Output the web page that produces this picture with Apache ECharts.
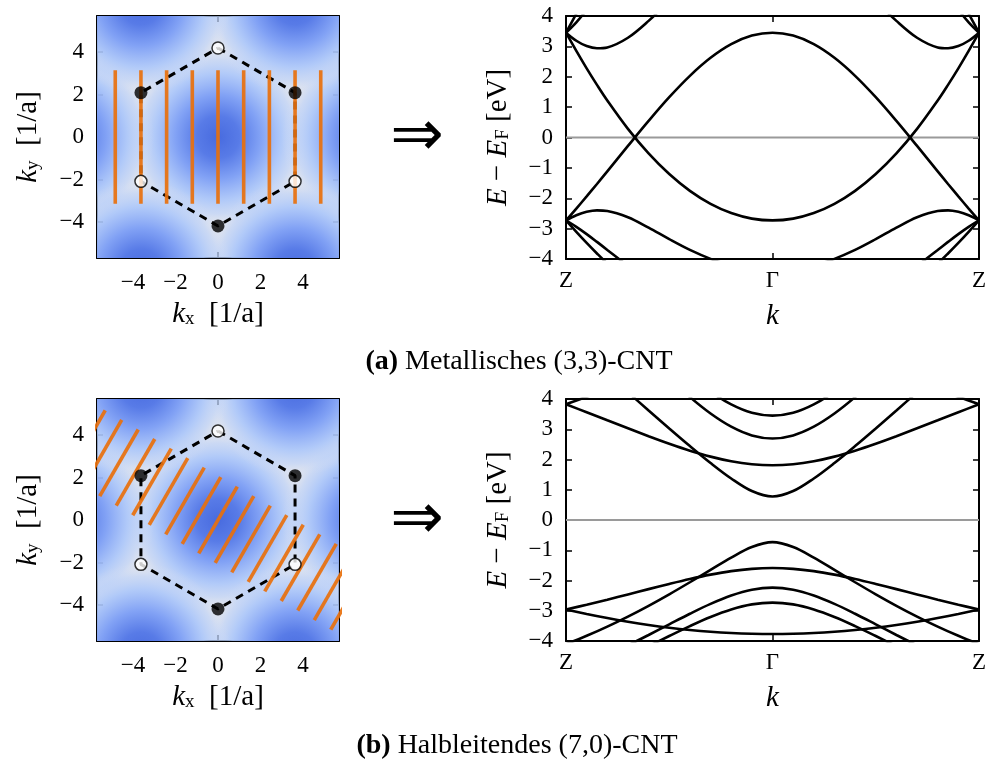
<!DOCTYPE html>
<html><head><meta charset="utf-8">
<script src="https://cdn.jsdelivr.net/npm/echarts@6/dist/echarts.min.js"></script>
<style>html,body{margin:0;padding:0;background:#fff}#c{width:1006px;height:765px}</style>
</head><body><div id="c"></div>
<script>
const FONT = '"Liberation Serif","DejaVu Serif",serif';

// ---- Brillouin-zone panels (k-space, units 1/a) ----
const bzTicks = [-4, -2, 0, 2, 4];
// dark (Gamma) spot centres of the background map
const gammaX = [0, 7.255, -7.255, 3.628, -3.628, 3.628, -3.628];
const gammaY = [0, 0, 0, 6.283, 6.283, -6.283, -6.283];
// hexagon corners (K points)
const hexX = [0, 3.63, 3.63, 0, -3.63, -3.63, 0];
const hexY = [4.19, 2.09, -2.09, -4.19, -2.09, 2.09, 4.19];
const kFullX = [-3.63, 3.63, 0];
const kFullY = [2.09, 2.09, -4.19];
const kOpenX = [0, -3.63, 3.63];
const kOpenY = [4.19, -2.09, -2.09];
// (3,3) cutting lines (vertical)
const cutX = [-4.84, -3.63, -2.42, -1.21, 0, 1.21, 2.42, 3.63, 4.84];
const cutY = [-3.14, 3.14];
// (7,0) cutting lines (endpoints)
const zigX1 = [-7.126,-6.348,-5.571,-4.794,-4.016,-3.239,-2.462,-1.684,-0.907,-0.130,0.648,1.425,2.202,2.980,3.757,4.534,5.312];
const zigY1 = [2.019,1.571,1.122,0.673,0.224,-0.225,-0.673,-1.122,-1.571,-2.020,-2.469,-2.917,-3.366,-3.815,-4.264,-4.713,-5.161];
const zigX2 = [-5.312,-4.534,-3.757,-2.980,-2.202,-1.425,-0.648,0.130,0.907,1.684,2.462,3.239,4.016,4.794,5.571,6.348,7.126];
const zigY2 = [5.161,4.713,4.264,3.815,3.366,2.917,2.469,2.020,1.571,1.122,0.673,0.225,-0.224,-0.673,-1.122,-1.571,-2.019];

// ---- band structures ----
const kTicks = [-1, 0, 1];
const kLabels = ['Z', '\u0393', 'Z'];
const eTicks = [-4, -3, -2, -1, 0, 1, 2, 3, 4];
const fermiE = 0;

const kTop = [-1,-0.95,-0.9,-0.85,-0.8,-0.7,-0.6,-0.5,-0.4,-0.3,-0.2,-0.1,0,0.1,0.2,0.3,0.4,0.5,0.6,0.7,0.8,0.85,0.9,0.95,1];
const n = null;
const topDome   = [-2.73,-2.34,-1.939,-1.53,-1.115,-0.278,0.546,1.327,2.03,2.623,3.073,3.354,3.45,3.354,3.073,2.623,2.03,1.327,0.546,-0.278,-1.115,-1.53,-1.939,-2.34,-2.73];
const topValley = [3.45,2.85,2.277,1.733,1.218,0.284,-0.524,-1.204,-1.757,-2.185,-2.488,-2.67,-2.73,-2.67,-2.488,-2.185,-1.757,-1.204,-0.524,0.284,1.218,1.733,2.277,2.85,3.45];
const topC1Up   = [3.45,4.076,4.724,5.393,n,n,n,n,n,n,n,n,n,n,n,n,n,n,n,n,n,5.393,4.724,4.076,3.45];
const topC1Dn   = [-2.73,-3.107,-3.471,-3.819,-4.15,-4.758,-5.29,n,n,n,n,n,n,n,n,n,n,n,-5.29,-4.758,-4.15,-3.819,-3.471,-3.107,-2.73];
const topC2Up   = [3.45,3.793,4.202,4.661,5.161,n,n,n,n,n,n,n,n,n,n,n,n,n,n,n,5.161,4.661,4.202,3.793,3.45];
const topC2Dn   = [-2.73,-2.941,-3.18,-3.437,-3.701,-4.225,-4.713,-5.145,n,n,n,n,n,n,n,n,n,-5.145,-4.713,-4.225,-3.701,-3.437,-3.18,-2.941,-2.73];
const topC3Up   = [3.45,3.185,3.011,2.938,2.966,3.284,3.839,4.498,5.161,n,n,n,n,n,n,n,5.161,4.498,3.839,3.284,2.966,2.938,3.011,3.185,3.45];
const topC3Dn   = [-2.73,-2.561,-2.448,-2.399,-2.418,-2.625,-2.968,-3.347,-3.701,-3.995,-4.214,-4.348,-4.393,-4.348,-4.214,-3.995,-3.701,-3.347,-2.968,-2.625,-2.418,-2.399,-2.448,-2.561,-2.73];

const kBot = [-1,-0.9,-0.8,-0.7,-0.6,-0.5,-0.4,-0.3,-0.2,-0.1,0,0.1,0.2,0.3,0.4,0.5,0.6,0.7,0.8,0.9,1];
const botB1Up = [5.987,5.412,4.822,4.222,3.621,3.025,2.443,1.885,1.373,0.957,0.775,0.957,1.373,1.885,2.443,3.025,3.621,4.222,4.822,5.412,5.987];
const botB1Dn = [-4.107,-3.828,-3.523,-3.192,-2.836,-2.457,-2.058,-1.648,-1.242,-0.892,-0.732,-0.892,-1.242,-1.648,-2.058,-2.457,-2.836,-3.192,-3.523,-3.828,-4.107];
const botB2Up = [3.824,3.564,3.297,3.031,2.769,2.52,2.292,2.095,1.941,1.843,1.808,1.843,1.941,2.095,2.292,2.52,2.769,3.031,3.297,3.564,3.824];
const botB2Dn = [-2.959,-2.801,-2.634,-2.461,-2.285,-2.113,-1.95,-1.806,-1.69,-1.615,-1.589,-1.615,-1.69,-1.806,-1.95,-2.113,-2.285,-2.461,-2.634,-2.801,-2.959];
const botB3Up = [n,n,n,6.067,5.358,4.684,4.063,3.52,3.085,2.797,2.696,2.797,3.085,3.52,4.063,4.684,5.358,6.067,n,n,n];
const botB3Dn = [-5.065,-4.781,-4.473,-4.145,-3.801,-3.449,-3.1,-2.773,-2.496,-2.305,-2.235,-2.305,-2.496,-2.773,-3.1,-3.449,-3.801,-4.145,-4.473,-4.781,-5.065];
const botB4Up = [n,n,n,n,6.121,5.423,4.789,4.245,3.82,3.545,3.45,3.545,3.82,4.245,4.789,5.423,6.121,n,n,n,n];
const botB4Dn = [-5.407,-5.126,-4.823,-4.503,-4.17,-3.834,-3.506,-3.205,-2.956,-2.789,-2.73,-2.789,-2.956,-3.205,-3.506,-3.834,-4.17,-4.503,-4.823,-5.126,-5.407];
const botB5Up = [3.824,4.074,4.309,4.525,4.72,4.891,5.034,5.147,5.229,5.279,5.296,5.279,5.229,5.147,5.034,4.891,4.72,4.525,4.309,4.074,3.824];
const botB5Dn = [-2.959,-3.106,-3.241,-3.362,-3.469,-3.56,-3.635,-3.694,-3.736,-3.761,-3.77,-3.761,-3.736,-3.694,-3.635,-3.56,-3.469,-3.362,-3.241,-3.106,-2.959];

const topBands = [topDome, topValley, topC1Up, topC1Dn, topC2Up, topC2Dn, topC3Up, topC3Dn];
const botBands = [botB1Up, botB1Dn, botB2Up, botB2Dn, botB3Up, botB3Dn, botB4Up, botB4Dn, botB5Up, botB5Dn];

// ---- styling ----
const ORANGE = '#e8700c';
const BG = '#e2e5ec';
const BLOB_R = 4.25;
const blobStops = [
  {offset: 0, color: 'rgba(72,107,223,1)'},
  {offset: 0.235, color: 'rgba(88,123,231,1)'},
  {offset: 0.47, color: 'rgba(130,162,245,1)'},
  {offset: 0.706, color: 'rgba(172,199,250,0.9)'},
  {offset: 0.854, color: 'rgba(184,207,250,0.55)'},
  {offset: 0.94, color: 'rgba(200,216,248,0.2)'},
  {offset: 1, color: 'rgba(210,220,245,0)'}
];
const TICK_FS = 23, NAME_FS = 29, CAP_FS = 28;

const minus = v => (v < 0 ? '\u2212' + Math.abs(v) : String(v));
const nameRich = {
  i: {fontFamily: FONT, fontSize: NAME_FS, fontStyle: 'italic', color: '#000', verticalAlign: 'top', lineHeight: NAME_FS},
  r: {fontFamily: FONT, fontSize: NAME_FS, color: '#000', verticalAlign: 'top', lineHeight: NAME_FS},
  s: {fontFamily: FONT, fontSize: 19, color: '#000', verticalAlign: 'bottom', lineHeight: 19, padding: [15, 0, 0, 0]}
};

function axis(kind, g, pos, min, max, ticks, fmt, name, gap, margin) {
  const main = fmt != null;
  const a = {
    type: 'value', gridIndex: g, position: pos, min: min, max: max,
    axisLine: {show: true, onZero: false, lineStyle: {color: '#000', width: 2}},
    axisTick: {show: true, inside: true, length: 6, customValues: ticks, lineStyle: {color: '#000', width: 1.5}},
    axisLabel: {show: main, customValues: ticks, formatter: fmt || undefined, margin: margin || 11,
      color: '#000', fontFamily: FONT, fontSize: TICK_FS},
    splitLine: {show: false},
    axisPointer: {show: false}
  };
  if (name) {
    a.name = name; a.nameLocation = 'middle'; a.nameGap = gap;
    if (kind === 'y') a.nameRotate = 90;
    a.nameTextStyle = {fontFamily: FONT, fontSize: NAME_FS, color: '#000', rich: nameRich};
  }
  return a;
}

const kFmt = v => { const i = kTicks.indexOf(v); return i >= 0 ? kLabels[i] : ''; };

const grids = [
  {left: 97, top: 16, width: 242, height: 242, show: true, backgroundColor: BG, borderWidth: 0},
  {left: 566, top: 16, width: 413, height: 243},
  {left: 97, top: 399, width: 242, height: 242, show: true, backgroundColor: BG, borderWidth: 0},
  {left: 566, top: 399, width: 413, height: 242}
];

const xAxes = [], yAxes = [];
[0, 2].forEach(g => {
  xAxes.push(axis('x', g, 'bottom', -5.7, 5.7, bzTicks, minus, '{i|k}{s|x}{r|  [1/a]}', 34, 13));
  xAxes.push(axis('x', g, 'top', -5.7, 5.7, bzTicks, null));
  yAxes.push(axis('y', g, 'left', -5.7, 5.7, bzTicks, minus, '{i|k}{s|y}{r|  [1/a]}', 54, 13));
  yAxes.push(axis('y', g, 'right', -5.7, 5.7, bzTicks, null));
});
[1, 3].forEach(g => {
  xAxes.push(axis('x', g, 'bottom', -1, 1, kTicks, kFmt, '{i|k}', 43, 10));
  xAxes.push(axis('x', g, 'top', -1, 1, kTicks, null));
  yAxes.push(axis('y', g, 'left', -4, 4, eTicks, minus, '{i|E}{r| \u2212 }{i|E}{s|F}{r| [eV]}', 53, 13));
  yAxes.push(axis('y', g, 'right', -4, 4, eTicks, null));
});
// axis index order: x/y 0,1 -> grid0 ; 2,3 -> grid2 ; 4,5 -> grid1 ; 6,7 -> grid3
const AX = {0: 0, 2: 2, 1: 4, 3: 6};

const series = [];
function blobItem(params, api) {
  const c = api.coord([api.value(0), api.value(1)]);
  const r = api.size([BLOB_R, 0])[0];
  return {type: 'circle', shape: {cx: c[0], cy: c[1], r: r},
    style: {fill: new echarts.graphic.RadialGradient(0.5, 0.5, 0.5, blobStops)}};
}
function bzPanel(g, segs) {
  const ai = AX[g];
  series.push({type: 'custom', xAxisIndex: ai, yAxisIndex: ai, clip: true, silent: true, z: 1,
    renderItem: blobItem, data: gammaX.map((x, i) => [x, gammaY[i]])});
  series.push({type: 'line', xAxisIndex: ai, yAxisIndex: ai, silent: true, z: 3, symbol: 'none',
    data: hexX.map((x, i) => [x, hexY[i]]),
    lineStyle: {color: '#000', width: 3, type: [8, 6]}});
  segs.forEach(s => series.push({type: 'line', xAxisIndex: ai, yAxisIndex: ai, silent: true, z: 4,
    symbol: 'none', clip: true, data: s, lineStyle: {color: ORANGE, width: 3.6, opacity: 0.92, cap: 'butt'}}));
  series.push({type: 'scatter', xAxisIndex: ai, yAxisIndex: ai, silent: true, z: 6, symbolSize: 13,
    data: kFullX.map((x, i) => [x, kFullY[i]]), itemStyle: {color: '#000'}});
  series.push({type: 'scatter', xAxisIndex: ai, yAxisIndex: ai, silent: true, z: 6, symbolSize: 12,
    data: kOpenX.map((x, i) => [x, kOpenY[i]]), itemStyle: {color: '#fff', borderColor: '#000', borderWidth: 1.5}});
}
bzPanel(0, cutX.map(x => [[x, cutY[0]], [x, cutY[1]]]));
bzPanel(2, zigX1.map((x, i) => [[x, zigY1[i]], [zigX2[i], zigY2[i]]]));

function bandPanel(g, ks, bands) {
  const ai = AX[g];
  series.push({type: 'line', xAxisIndex: ai, yAxisIndex: ai, silent: true, z: 2, symbol: 'none',
    data: [[kTicks[0], fermiE], [kTicks[2], fermiE]], lineStyle: {color: '#9a9a9a', width: 2}});
  bands.forEach(b => series.push({type: 'line', xAxisIndex: ai, yAxisIndex: ai, silent: true, z: 3,
    symbol: 'none', smooth: 0.35, clip: true, connectNulls: false,
    data: ks.map((k, i) => [k, b[i]]), lineStyle: {color: '#000', width: 2.6}}));
}
bandPanel(1, kTop, topBands);
bandPanel(3, kBot, botBands);

const capRich = {b: {fontFamily: FONT, fontSize: CAP_FS, fontWeight: 'bold', color: '#000'}};
const option = {
  animation: false,
  backgroundColor: '#fff',
  grid: grids,
  xAxis: xAxes,
  yAxis: yAxes,
  series: series,
  graphic: [
    {type: 'text', x: 519, y: 362, style: {text: '{b|(a)} Metallisches (3,3)-CNT', rich: capRich,
      fontFamily: FONT, fontSize: CAP_FS, fill: '#000', align: 'center', verticalAlign: 'middle'}},
    {type: 'text', x: 517, y: 746, style: {text: '{b|(b)} Halbleitendes (7,0)-CNT', rich: capRich,
      fontFamily: FONT, fontSize: CAP_FS, fill: '#000', align: 'center', verticalAlign: 'middle'}},
    {type: 'text', x: 417, y: 138, style: {text: '\u21D2', fontFamily: '"DejaVu Sans"', fontSize: 64,
      fill: '#000', align: 'center', verticalAlign: 'middle'}},
    {type: 'text', x: 417, y: 521, style: {text: '\u21D2', fontFamily: '"DejaVu Sans"', fontSize: 64,
      fill: '#000', align: 'center', verticalAlign: 'middle'}}
  ]
};
const chart = echarts.init(document.getElementById('c'), null, {renderer: 'canvas'});
chart.setOption(option);
</script>
</body></html>
